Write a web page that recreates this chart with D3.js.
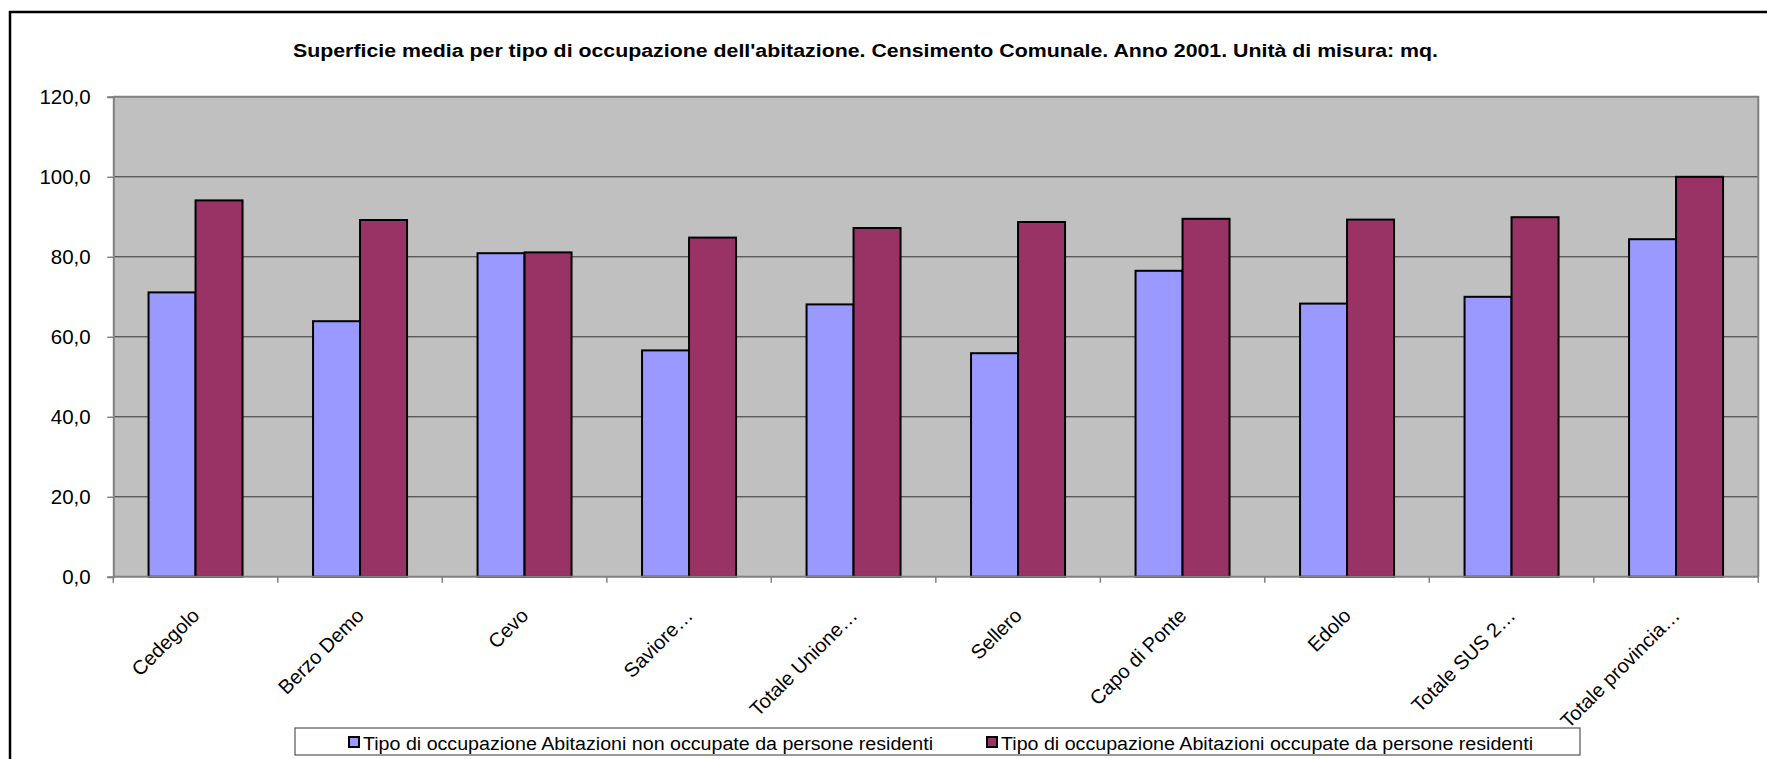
<!DOCTYPE html>
<html>
<head>
<meta charset="utf-8">
<script src="https://cdn.jsdelivr.net/npm/d3@7"></script>
<style>
  html, body { margin: 0; padding: 0; background: #fff; overflow: hidden; }
  svg { display: block; font-family: "Liberation Sans", Arial, sans-serif; }
</style>
</head>
<body>
<svg id="chart" width="1767" height="759"></svg>
<script>
const categories = ["Cedegolo", "Berzo Demo", "Cevo", "Saviore…", "Totale Unione…", "Sellero", "Capo di Ponte", "Edolo", "Totale SUS 2…", "Totale provincia…"];
const nonOccupate = [71.1, 63.9, 80.9, 56.6, 68.1, 55.9, 76.5, 68.3, 70.0, 84.4];
const occupate = [94.1, 89.2, 81.1, 84.8, 87.2, 88.7, 89.5, 89.3, 89.9, 100.0];
const seriesNames = ["Tipo di occupazione Abitazioni non occupate da persone residenti", "Tipo di occupazione Abitazioni occupate da persone residenti"];
const seriesColors = ["#9999FF", "#993366"];
const yTicks = [0, 20, 40, 60, 80, 100, 120];
const title = "Superficie media per tipo di occupazione dell'abitazione. Censimento Comunale. Anno 2001. Unità di misura: mq.";

const svg = d3.select("#chart");
const L = 113.3, R = 1758.3, T = 96.8, B = 576.8;

// outer chart border
svg.append("rect").attr("x", 10).attr("y", 12).attr("width", 1780).attr("height", 770)
  .attr("fill", "#fff").attr("stroke", "#000").attr("stroke-width", 2.5);

// title
svg.append("text").attr("x", 293).attr("y", 56.7)
  .attr("font-size", 18).attr("font-weight", "bold").attr("fill", "#000")
  .attr("textLength", 1145).attr("lengthAdjust", "spacingAndGlyphs")
  .text(title);

const x = d3.scaleBand().domain(categories).range([L, R]).paddingInner(0).paddingOuter(0);
const y = d3.scaleLinear().domain([0, 120]).range([B, T]);
const bw = x.bandwidth() / 3.5;
const off = 0.75 * bw;

// plot area
svg.append("rect").attr("x", L).attr("y", T).attr("width", R - L).attr("height", B - T)
  .attr("fill", "#C0C0C0");

// gridlines
svg.append("g").selectAll("line").data(yTicks.filter(d => d > 0 && d < 120)).join("line")
  .attr("x1", L).attr("x2", R).attr("y1", d => y(d)).attr("y2", d => y(d))
  .attr("stroke", "#333").attr("stroke-width", 1);

// plot border (top/right)
svg.append("path").attr("d", `M${L},${T}H${R}V${B}`).attr("fill", "none")
  .attr("stroke", "#808080").attr("stroke-width", 2);

// bars
const series = [nonOccupate, occupate];
series.forEach((vals, si) => {
  svg.append("g").selectAll("rect").data(vals).join("rect")
    .attr("x", (d, i) => x(categories[i]) + off + si * bw)
    .attr("y", d => y(d))
    .attr("width", bw)
    .attr("height", d => y(0) - y(d))
    .attr("fill", seriesColors[si])
    .attr("stroke", "#000").attr("stroke-width", 2);
});

// y axis
const yAxis = d3.axisLeft(y).tickValues(yTicks).tickSize(6).tickPadding(10)
  .tickFormat(d => d3.format(".1f")(d).replace(".", ","));
const gy = svg.append("g").attr("transform", `translate(${L},0)`).call(yAxis);
gy.select(".domain").attr("stroke", "#808080").attr("stroke-width", 2);
gy.selectAll(".tick line").attr("stroke", "#808080").attr("stroke-width", 1.5);
gy.selectAll(".tick text").attr("font-size", 20.5).attr("fill", "#000")
  .attr("font-family", "Liberation Sans, Arial, sans-serif").attr("x", -22.6).attr("dy", "0.35em");

// x axis baseline and ticks
svg.append("line").attr("x1", L).attr("x2", R).attr("y1", B).attr("y2", B)
  .attr("stroke", "#808080").attr("stroke-width", 2);
const bounds = categories.map(c => x(c)).concat([R]);
svg.append("g").selectAll("line").data(bounds).join("line")
  .attr("x1", d => d).attr("x2", d => d).attr("y1", B).attr("y2", B + 6)
  .attr("stroke", "#808080").attr("stroke-width", 1.5);

// category labels
svg.append("g").selectAll("text").data(categories).join("text")
  .attr("transform", d => `translate(${x(d) + x.bandwidth() / 2 + 5},${B + 40}) rotate(-45)`)
  .attr("text-anchor", "end").attr("font-size", 20).attr("fill", "#000")
  .text(d => d);

// legend
svg.append("rect").attr("x", 295).attr("y", 728).attr("width", 1285).attr("height", 27)
  .attr("fill", "#fff").attr("stroke", "#555").attr("stroke-width", 1.2);
const legendItems = [
  { mx: 349, tx: 363, tl: 570 },
  { mx: 987, tx: 1001, tl: 532 }
];
legendItems.forEach((it, i) => {
  svg.append("rect").attr("x", it.mx).attr("y", 737).attr("width", 10).attr("height", 10)
    .attr("fill", seriesColors[i]).attr("stroke", "#000").attr("stroke-width", 2);
  svg.append("text").attr("x", it.tx).attr("y", 750).attr("font-size", 18).attr("fill", "#000")
    .attr("textLength", it.tl).attr("lengthAdjust", "spacingAndGlyphs")
    .text(seriesNames[i]);
});
</script>
</body>
</html>
